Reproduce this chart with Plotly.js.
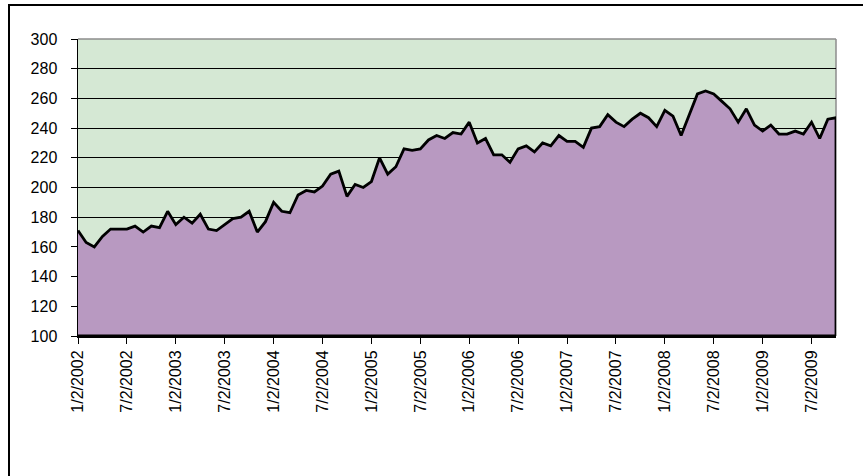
<!DOCTYPE html>
<html>
<head>
<meta charset="utf-8">
<script src="https://cdn.plot.ly/plotly-3.0.1.min.js"></script>
<style>
html,body{margin:0;padding:0;background:#fff;overflow:hidden;width:863px;height:476px;}
#wrap{position:relative;width:863px;height:476px;overflow:hidden;}
#chart{width:863px;height:476px;}
#frame{position:absolute;left:8px;top:4px;width:1000px;height:1000px;border-top:2px solid #000;border-left:2px solid #000;pointer-events:none;}
</style>
</head>
<body>
<div id="wrap"><div id="chart"></div><div id="frame"></div></div>
<script>
var months = [
"1/2/2002","2/2/2002","3/2/2002","4/2/2002","5/2/2002","6/2/2002","7/2/2002","8/2/2002","9/2/2002","10/2/2002","11/2/2002","12/2/2002",
"1/2/2003","2/2/2003","3/2/2003","4/2/2003","5/2/2003","6/2/2003","7/2/2003","8/2/2003","9/2/2003","10/2/2003","11/2/2003","12/2/2003",
"1/2/2004","2/2/2004","3/2/2004","4/2/2004","5/2/2004","6/2/2004","7/2/2004","8/2/2004","9/2/2004","10/2/2004","11/2/2004","12/2/2004",
"1/2/2005","2/2/2005","3/2/2005","4/2/2005","5/2/2005","6/2/2005","7/2/2005","8/2/2005","9/2/2005","10/2/2005","11/2/2005","12/2/2005",
"1/2/2006","2/2/2006","3/2/2006","4/2/2006","5/2/2006","6/2/2006","7/2/2006","8/2/2006","9/2/2006","10/2/2006","11/2/2006","12/2/2006",
"1/2/2007","2/2/2007","3/2/2007","4/2/2007","5/2/2007","6/2/2007","7/2/2007","8/2/2007","9/2/2007","10/2/2007","11/2/2007","12/2/2007",
"1/2/2008","2/2/2008","3/2/2008","4/2/2008","5/2/2008","6/2/2008","7/2/2008","8/2/2008","9/2/2008","10/2/2008","11/2/2008","12/2/2008",
"1/2/2009","2/2/2009","3/2/2009","4/2/2009","5/2/2009","6/2/2009","7/2/2009","8/2/2009","9/2/2009","10/2/2009"
];
var values = [
171,163,160,167,172,172,172,174,170,174,173,184,
175,180,176,182,172,171,175,179,180,184,170,177,
190,184,183,195,198,197,201,209,211,194,202,200,
204,220,209,214,226,225,226,232,235,233,237,236,
244,230,233,222,222,217,226,228,224,230,228,235,
231,231,227,240,241,249,244,241,246,250,247,241,
252,248,235,249,263,265,263,258,253,244,253,242,
238,242,236,236,238,236,244,233,246,247
];
var tickLabels = ["1/2/2002","7/2/2002","1/2/2003","7/2/2003","1/2/2004","7/2/2004","1/2/2005","7/2/2005",
"1/2/2006","7/2/2006","1/2/2007","7/2/2007","1/2/2008","7/2/2008","1/2/2009","7/2/2009"];
var yTicks = [100,120,140,160,180,200,220,240,260,280,300];
var yMin = 100, yMax = 300;

var polyX = months.concat([months[months.length-1], months[0]]);
var polyY = values.concat([yMin, yMin]);

var trace = {
  x: polyX, y: polyY, type: 'scatter', mode: 'lines',
  fill: 'toself', fillcolor: '#b899c1',
  line: {color: '#000000', width: 2.8},
  hoverinfo: 'skip', showlegend: false
};

var layout = {
  width: 863, height: 476,
  margin: {l: 78, r: 27, t: 39, b: 140},
  paper_bgcolor: '#ffffff',
  plot_bgcolor: '#d5e8d4',
  showlegend: false,
  font: {family: 'Liberation Sans, Arial, sans-serif', color: '#000'},
  xaxis: {
    type: 'category', categoryarray: months, categoryorder: 'array',
    range: [0, months.length - 1],
    tickmode: 'array', tickvals: tickLabels, ticktext: tickLabels,
    tickangle: -90, ticks: 'outside', ticklen: 6, tickcolor: '#000', tickwidth: 1,
    tickfont: {family: 'Liberation Sans, Arial, sans-serif', size: 16, color: '#000'},
    showline: true, linecolor: '#000', linewidth: 2,
    showgrid: false, zeroline: false, fixedrange: true
  },
  yaxis: {
    range: [yMin, yMax], tickmode: 'array', tickvals: yTicks,
    ticks: 'outside', ticklen: 6, tickcolor: '#000', tickwidth: 1,
    ticklabelstandoff: 10,
    tickfont: {family: 'Liberation Sans Narrow, Arial Narrow, Liberation Sans, sans-serif', size: 16, color: '#000'},
    showline: true, linecolor: '#000', linewidth: 1.5,
    showgrid: true, gridcolor: '#000', gridwidth: 1,
    zeroline: false, fixedrange: true
  },
  shapes: [
    {type: 'line', xref: 'paper', yref: 'paper', x0: 0, x1: 1, y0: 1, y1: 1, line: {color: '#8c8c8c', width: 1.5}},
    {type: 'line', xref: 'paper', yref: 'paper', x0: 1, x1: 1, y0: 0, y1: 1, line: {color: '#8c8c8c', width: 1.5}, layer: 'below'}
  ]
};

Plotly.newPlot('chart', [trace], layout, {displayModeBar: false, staticPlot: true});
</script>
</body>
</html>
